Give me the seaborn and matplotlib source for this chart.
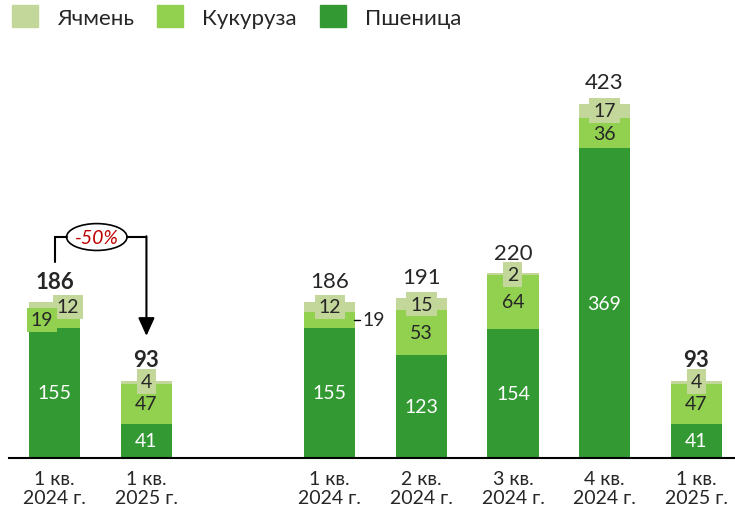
import pandas as pd
import matplotlib.pyplot as plt
import matplotlib.patches as mpatches
import seaborn as sns

sns.set_style("white")
plt.rcParams['font.family'] = ['Lato', 'Noto Sans', 'DejaVu Sans']

# Data
slots = ["L1", "L2", "gap", "R1", "R2", "R3", "R4", "R5"]
periods = ["L1", "L2", "R1", "R2", "R3", "R4", "R5"]
tick_labels = ["1 кв.\n2024 г.", "1 кв.\n2025 г.", "",
               "1 кв.\n2024 г.", "2 кв.\n2024 г.", "3 кв.\n2024 г.",
               "4 кв.\n2024 г.", "1 кв.\n2025 г."]
wheat = [155, 41, 155, 123, 154, 369, 41]
corn = [19, 47, 19, 53, 64, 36, 47]
barley = [12, 4, 12, 15, 2, 17, 4]
totals = [186, 93, 186, 191, 220, 423, 93]
bold_total = [True, True, False, False, False, False, True]

c_barley = "#c4d79b"
c_corn = "#92d050"
c_wheat = "#339933"

df = pd.DataFrame({"period": periods, "wheat": wheat, "corn": corn, "barley": barley})
df["wc"] = df["wheat"] + df["corn"]
df["total"] = df["wc"] + df["barley"]

fig = plt.figure(figsize=(7.35, 5.06), dpi=100)
ax = fig.add_axes([9 / 735, 47 / 506, 733 / 735, 399 / 506])

# stacked bars drawn as overlapping cumulative bars
for col, color in [("total", c_barley), ("wc", c_corn), ("wheat", c_wheat)]:
    sns.barplot(data=df, x="period", y=col, order=slots, color=color,
                width=0.56, linewidth=0, saturation=1, ax=ax)

ax.set_ylim(0, 475.6)
ax.set_xlim(-0.5, 7.5)
for s in ["top", "left", "right"]:
    ax.spines[s].set_visible(False)
ax.spines["bottom"].set_color("black")
ax.spines["bottom"].set_linewidth(1.5)
ax.set_yticks([])
ax.set_xlabel("")
ax.set_ylabel("")
ax.set_xticks(range(len(slots)))
ax.set_xticklabels(tick_labels, fontsize=14, linespacing=1.1)
ax.tick_params(axis="x", length=0, pad=9)

fs = 14
for i, p in enumerate(periods):
    x = slots.index(p)
    w, c, b, t = wheat[i], corn[i], barley[i], totals[i]
    ax.text(x, w / 2, str(w), ha="center", va="center", color="white", fontsize=fs)
    # barley label with its own background
    bx = x + 0.14 if p == "L1" else x
    ax.text(bx, t - b / 2, str(b), ha="center", va="center", fontsize=fs,
            bbox=dict(boxstyle="square,pad=0.2", fc=c_barley, ec="none"))
    if p == "L1":
        ax.text(x - 0.14, w + c / 2, str(c), ha="center", va="center", fontsize=fs,
                bbox=dict(boxstyle="square,pad=0.2", fc=c_corn, ec="none"))
    elif p == "R1":
        ax.plot([x + 0.27, x + 0.33], [w + c / 2, w + c / 2], color="black", lw=1)
        ax.text(x + 0.36, w + c / 2, str(c), ha="left", va="center", fontsize=fs)
    else:
        ax.text(x, w + c / 2, str(c), ha="center", va="center", fontsize=fs)
    ax.annotate(str(t), (x, t), xytext=(0, 15), textcoords="offset points",
                ha="center", va="center", fontsize=16,
                fontweight="bold" if bold_total[i] else "normal")

# -50% callout
y_top = 263.4
ax.plot([0, 0, 0.13], [234, y_top, y_top], color="black", lw=1.5, solid_joinstyle="miter")
ax.plot([0.786, 1], [y_top, y_top], color="black", lw=1.5)
ax.annotate("", xy=(1, 145.5), xytext=(1, y_top + 0.9),
            arrowprops=dict(arrowstyle="-|>,head_length=1.1,head_width=0.5",
                            color="black", lw=1.5, shrinkA=0, shrinkB=0))
ax.add_patch(mpatches.Ellipse((0.458, y_top), 0.66, 32, fc="white", ec="black", lw=1.2))
ax.text(0.458, y_top, "-50%", ha="center", va="center", fontsize=14,
        color="#c00000", style="italic")

handles = [mpatches.Patch(color=c_barley, label="Ячмень"),
           mpatches.Patch(color=c_corn, label="Кукуруза"),
           mpatches.Patch(color=c_wheat, label="Пшеница")]
fig.legend(handles=handles, loc="upper left", bbox_to_anchor=(12 / 735, 1 - 6 / 506),
           ncol=3, frameon=False, fontsize=16, handlelength=1.17, handleheight=1.17,
           handletextpad=0.85, columnspacing=1.05, borderpad=0, borderaxespad=0)

fig.savefig("out.png", dpi=100)
